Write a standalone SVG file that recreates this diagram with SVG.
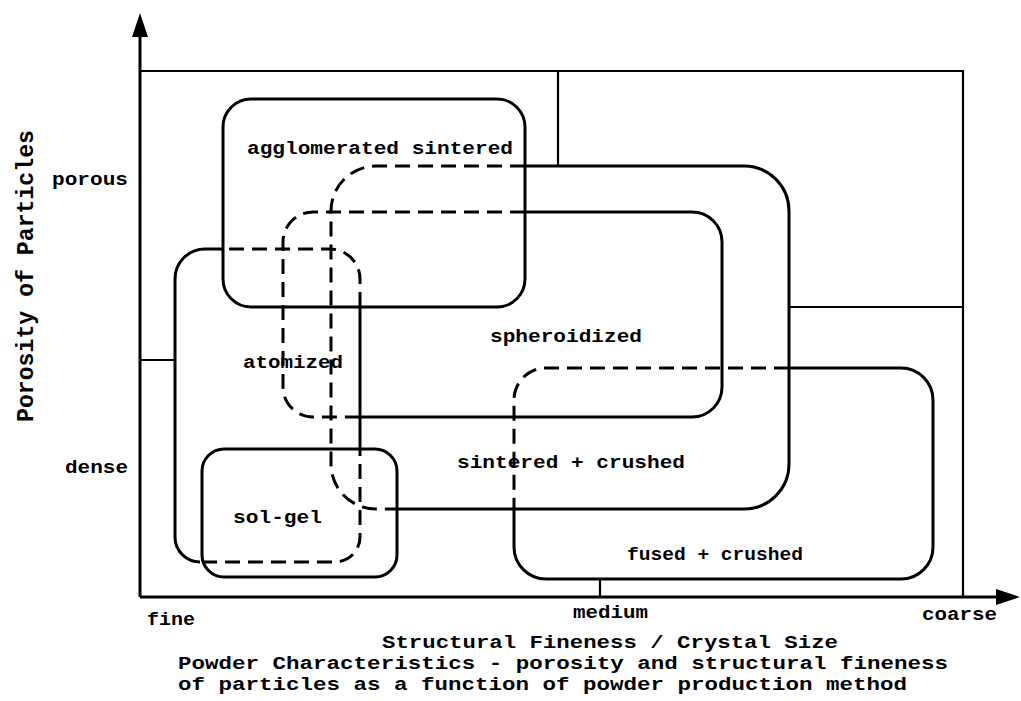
<svg xmlns="http://www.w3.org/2000/svg" width="1021" height="701" viewBox="0 0 1021 701">
  <style>
    .bg { fill: #ffffff; }
    .ln { fill: none; stroke: #000; stroke-width: 3; stroke-linejoin: round; }
    .th { fill: none; stroke: #000; stroke-width: 2.2; }
    .ds { fill: none; stroke: #000; stroke-width: 3; stroke-dasharray: 15 8; }
    .ax { fill: none; stroke: #000; stroke-width: 3; }
    text { font-family: "Liberation Mono", "DejaVu Sans Mono", monospace; font-size: 18px; fill: #000; font-weight: bold; }
    .cap { font-size: 18px; }
    .yl { font-size: 23px; }
  </style>
  <defs>
    <marker id="arrow" viewBox="0 0 24 16" markerWidth="24" markerHeight="16" refX="12" refY="8" orient="auto" markerUnits="userSpaceOnUse">
      <path d="M0,0 L24,8 L0,16 Z" fill="#000"/>
    </marker>
  </defs>
  <rect class="bg" x="0" y="0" width="1021" height="701"/>

  <g id="frame">
    <path class="th" d="M141,71 H963 V597"/>
    <path class="th" d="M558,71 V166"/>
    <path class="th" d="M789,307 H963"/>
    <path class="th" d="M141,360 H175"/>
    <path class="th" d="M600,579 V597"/>
  </g>

  <g id="connectors">
    <line class="ax" x1="140" y1="597" x2="140" y2="25" marker-end="url(#arrow)"/>
    <line class="ax" x1="140" y1="597" x2="1008" y2="597" marker-end="url(#arrow)"/>
  </g>

  <g id="agglomerated-sintered">
    <rect class="ln" x="223" y="99" width="302" height="208" rx="28" ry="28"/>
    <text x="247" y="154" textLength="266" lengthAdjust="spacingAndGlyphs">agglomerated sintered</text>
  </g>

  <g id="sintered-crushed">
    <path class="ds" d="M525,166 H376 A45,45 0 0 0 331,211 V464 A45,45 0 0 0 376,509 H397"/>
    <path class="ln" d="M397,509 H744 A45,45 0 0 0 789,464 V211 A45,45 0 0 0 744,166 H525"/>
    <text x="457" y="468" textLength="228" lengthAdjust="spacingAndGlyphs">sintered + crushed</text>
  </g>

  <g id="spheroidized">
    <path class="ds" d="M525,212 H313 A30,30 0 0 0 283,242 V387 A30,30 0 0 0 313,417 H360"/>
    <path class="ln" d="M360,417 H692 A30,30 0 0 0 722,387 V242 A30,30 0 0 0 692,212 H525"/>
    <text x="490" y="342" textLength="152" lengthAdjust="spacingAndGlyphs">spheroidized</text>
  </g>

  <g id="atomized">
    <path class="ln" d="M223,249 H205 A30,30 0 0 0 175,279 V537 A25,25 0 0 0 200,562"/>
    <path class="ds" d="M202,562 H335 A25,25 0 0 0 360,537 V449"/>
    <path class="ln" d="M360,449 V307"/>
    <path class="ds" d="M360,307 V279 A30,30 0 0 0 330,249 H223"/>
    <text x="243" y="368" textLength="100" lengthAdjust="spacingAndGlyphs">atomized</text>
  </g>

  <g id="sol-gel">
    <rect class="ln" x="202" y="449" width="195" height="128" rx="22" ry="22"/>
    <text x="233" y="523" textLength="89" lengthAdjust="spacingAndGlyphs">sol-gel</text>
  </g>

  <g id="fused-crushed">
    <path class="ds" d="M789,368 H546 A32,32 0 0 0 514,400 V509"/>
    <path class="ln" d="M514,509 V547 A32,32 0 0 0 546,579 H901 A32,32 0 0 0 933,547 V400 A32,32 0 0 0 901,368 H789"/>
    <text x="627" y="560" textLength="176" lengthAdjust="spacingAndGlyphs">fused + crushed</text>
  </g>

  <g id="axis-labels">
    <text class="yl" transform="translate(33,422) rotate(-90)" textLength="292" lengthAdjust="spacingAndGlyphs">Porosity of Particles</text>
    <text x="52" y="185" textLength="76" lengthAdjust="spacingAndGlyphs">porous</text>
    <text x="65" y="473" textLength="63" lengthAdjust="spacingAndGlyphs">dense</text>
    <text x="147" y="625" textLength="48" lengthAdjust="spacingAndGlyphs">fine</text>
    <text x="573" y="618" textLength="75" lengthAdjust="spacingAndGlyphs">medium</text>
    <text x="922" y="620" textLength="75" lengthAdjust="spacingAndGlyphs">coarse</text>
    <text x="382" y="648" textLength="456" lengthAdjust="spacingAndGlyphs">Structural Fineness / Crystal Size</text>
  </g>

  <g id="caption">
    <text class="cap" x="178" y="669" textLength="770" lengthAdjust="spacingAndGlyphs">Powder Characteristics - porosity and structural fineness</text>
    <text class="cap" x="178" y="690" textLength="729" lengthAdjust="spacingAndGlyphs">of particles as a function of powder production method</text>
  </g>
</svg>
